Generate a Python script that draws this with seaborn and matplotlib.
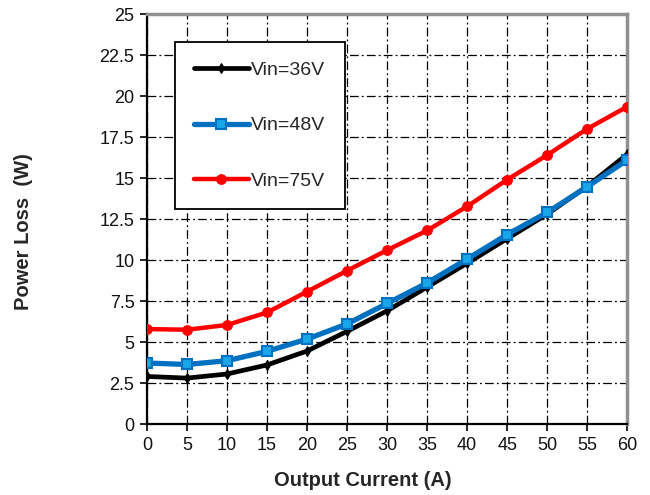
import numpy as np
import pandas as pd
import matplotlib
matplotlib.use("Agg")
import matplotlib.pyplot as plt
import seaborn as sns

current = [0, 5, 10, 15, 20, 25, 30, 35, 40, 45, 50, 55, 60]
loss_36v = [2.9, 2.8, 3.05, 3.6, 4.45, 5.65, 6.9, 8.35, 9.8, 11.3, 12.8, 14.5, 16.45]
loss_48v = [3.72, 3.63, 3.86, 4.43, 5.18, 6.1, 7.35, 8.6, 10.06, 11.55, 12.9, 14.47, 16.1]
loss_75v = [5.79, 5.75, 6.04, 6.8, 8.07, 9.35, 10.6, 11.8, 13.27, 14.9, 16.4, 18.0, 19.35]
labels = ["Vin=36V", "Vin=48V", "Vin=75V"]
y_ticks = [0, 2.5, 5, 7.5, 10, 12.5, 15, 17.5, 20, 22.5, 25]
x_ticks = list(range(0, 65, 5))

df = pd.DataFrame({"current": current * 3,
                   "loss": loss_36v + loss_48v + loss_75v,
                   "vin": np.repeat(labels, len(current))})

sns.set_style("white")
plt.rcParams["font.family"] = ["Liberation Sans", "DejaVu Sans"]

fig = plt.figure(figsize=(6.5, 4.95), dpi=100)
ax = fig.add_axes([0.226, 0.1434, 0.739, 0.8283])

styles = {
    "Vin=36V": dict(color="black", lw=3.4, marker="d", ms=5, mfc="black", mec="black", zorder=3),
    "Vin=48V": dict(color="#0070c0", lw=3.8, marker="s", ms=7.5, mfc="#18a6e8", mec="#0070c0", mew=1.5, zorder=4),
    "Vin=75V": dict(color="#ff0000", lw=3.2, marker="o", ms=7, mfc="#ff0000", mec="#ff0000", zorder=5),
}
for lab in labels:
    sub = df[df["vin"] == lab]
    sns.lineplot(data=sub, x="current", y="loss", ax=ax, label=lab, **styles[lab])

ax.set_xlim(0, 60)
ax.set_ylim(0, 25)
ax.set_xticks(x_ticks)
ax.set_yticks(y_ticks)
ax.set_yticklabels([f"{v:g}" for v in y_ticks])
ax.grid(True, color="black", lw=0.9, linestyle=(0, (7, 2.5, 1.5, 2.5)))
ax.set_axisbelow(True)

for lbl in ax.get_xticklabels() + ax.get_yticklabels():
    lbl.set_fontsize(13)
    lbl.set_color("#111111")
ax.tick_params(axis="both", direction="out", length=5, width=1.2, color="black", pad=4,
               bottom=True, left=True)

ax.spines["left"].set_color("black")
ax.spines["left"].set_linewidth(1.6)
ax.spines["bottom"].set_color("black")
ax.spines["bottom"].set_linewidth(1.6)
ax.spines["top"].set_color("#909090")
ax.spines["top"].set_linewidth(2.5)
ax.spines["right"].set_color("#909090")
ax.spines["right"].set_linewidth(2.5)

ax.set_xlabel("Output Current (A)", fontsize=14.5, fontweight="bold")
ax.set_ylabel("Power Loss  (W)", fontsize=14.5, fontweight="bold")
ax.xaxis.set_label_coords(0.45, -0.115)
ax.yaxis.set_label_coords(-0.237, 0.47)

leg = ax.legend(loc="upper left", bbox_to_anchor=(0.058, 0.932), frameon=True, fancybox=False,
                edgecolor="black", framealpha=1, handlelength=2.8, handletextpad=0.12,
                labelspacing=1.95, borderpad=1.0, borderaxespad=0,
                prop={"size": 14})
leg.get_frame().set_linewidth(1.3)

fig.savefig("out.png", dpi=100)
